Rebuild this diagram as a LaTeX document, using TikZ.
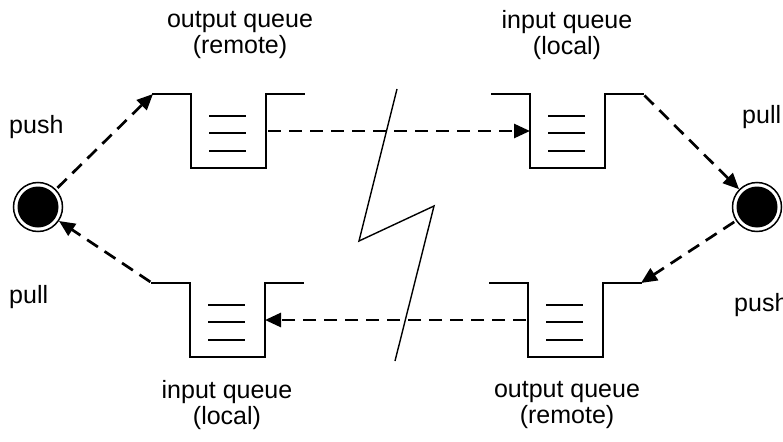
\documentclass[tikz,border=0pt]{standalone}
\usepackage{fontspec}
\setmainfont{Liberation Sans}
\usetikzlibrary{arrows.meta}

\tikzset{
  wall/.style={line width=2.8pt, line cap=rect},
  level/.style={line width=1.1pt},
  flow/.style={line width=2.7pt, dash pattern=on 13pt off 8pt,
               -{Triangle[length=16pt, width=14pt]}, shorten <=2pt},
  station/.style={circle, draw, line width=1.5pt, minimum size=49pt,
                  inner sep=0pt,
                  path picture={\fill (path picture bounding box.center) circle (20.5pt);}},
  caption/.style={align=center, font=\fontsize{25}{26.5}\selectfont, inner sep=0pt},
  side/.style={font=\fontsize{25}{26.5}\selectfont, inner sep=0pt},
  breakline/.style={line width=1.4pt, line join=miter},
  queue/.pic={
    \draw[wall] (-38,0) coordinate (-l) -- (0,0) -- (0,74) -- (75,74)
                -- (75,0) -- (113,0) coordinate (-r);
    \coordinate (-lw) at (0,37);
    \coordinate (-rw) at (75,37);
    \foreach \yy in {22,39,57} \draw[level] (18,\yy) -- (55,\yy);
  }
}

\begin{document}
\begin{tikzpicture}[x=1pt, y=-1pt]
  \useasboundingbox (0,0) rectangle (783,441);

  % the four queues
  \pic (qa) at (191,94)  {queue};
  \pic (qb) at (530,94)  {queue};
  \pic (qc) at (190,283) {queue};
  \pic (qd) at (528,283) {queue};

  % the two end points
  \node[station] (L) at (38,207) {};
  \node[station] (R) at (757,207) {};

  % link break
  \draw[breakline] (397,89) -- (359,241) -- (434,206) -- (395,361);

  % message flow
  \draw[flow] (L) -- (qa-l);
  \draw[flow] (qa-rw) -- (qb-lw);
  \draw[flow] (qb-r) -- (R);
  \draw[flow] (R) -- (qd-r);
  \draw[flow] (qd-lw) -- (qc-rw);
  \draw[flow] (qc-l) -- (L);

  % captions
  \node[caption] (ca) at (240,35)  {output queue\\(remote)};
  \node[caption] (cb) at (567,35)  {input queue\\(local)};
  \node[caption] (cc) at (227,405) {input queue\\(local)};
  \node[caption] (cd) at (567,405) {output queue\\(remote)};

  \node[side, anchor=west] (pl1) at (9,127) {push};
  \node[side, anchor=west] (pl2) at (9,297) {pull};
  \node[side, anchor=west] (pr1) at (742,117) {pull};
  \node[side, anchor=west] (pr2) at (734,305) {push};
\end{tikzpicture}
\end{document}
